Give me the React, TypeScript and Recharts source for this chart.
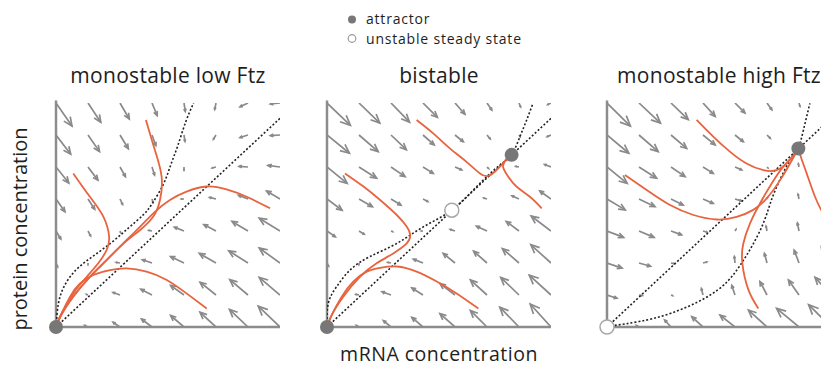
import React from 'react';
import { ComposedChart, Line, XAxis, YAxis, ReferenceDot, ReferenceLine } from 'recharts';

type Pt = [number, number];

// grid of the vector field (data units, tails of arrows)
const gridX = [0, 1, 2, 3, 4, 5, 6, 7];
const gridY = [0, 1, 2, 3, 4, 5, 6, 7];

// ---- monostable low Ftz : arrow components, rows from bottom (y=0) to top (y=7)
const lowDx: number[][] = [
  [0, -0.1, -0.22, -0.33, -0.42, -0.5, -0.58, -0.68],
  [0, -0.05, -0.22, -0.35, -0.42, -0.5, -0.57, -0.65],
  [0.05, 0, -0.12, -0.3, -0.42, -0.52, -0.6, -0.65],
  [0.15, 0.08, 0.02, -0.1, -0.3, -0.38, -0.5, -0.65],
  [0.28, 0.21, 0.08, 0.03, -0.08, -0.2, -0.3, -0.42],
  [0.4, 0.31, 0.17, 0.08, 0, -0.12, -0.28, -0.38],
  [0.46, 0.36, 0.26, 0.12, 0.03, -0.08, -0.25, -0.3],
  [0.5, 0.4, 0.29, 0.16, 0.04, -0.04, -0.25, -0.3],
];
const lowDy: number[][] = [
  [0, 0.05, 0.15, 0.25, 0.36, 0.46, 0.55, 0.65],
  [0, 0.02, 0.08, 0.18, 0.3, 0.4, 0.48, 0.55],
  [-0.12, -0.05, 0.02, 0.1, 0.2, 0.3, 0.38, 0.47],
  [-0.25, -0.15, -0.05, 0.02, 0.12, 0.2, 0.3, 0.4],
  [-0.4, -0.32, -0.17, -0.1, 0, 0.05, 0.12, 0.25],
  [-0.5, -0.41, -0.3, -0.25, -0.1, -0.03, 0.02, 0.05],
  [-0.6, -0.52, -0.43, -0.33, -0.2, -0.13, -0.08, -0.02],
  [-0.72, -0.6, -0.5, -0.39, -0.26, -0.2, -0.12, -0.03],
];

// ---- bistable
const biDx: number[][] = [
  [0, -0.08, -0.24, -0.35, -0.47, -0.52, -0.6, -0.65],
  [0, -0.1, -0.28, -0.35, -0.47, -0.52, -0.57, -0.68],
  [0.05, 0, -0.1, -0.3, -0.37, -0.42, -0.52, -0.63],
  [0.26, 0.16, 0.05, -0.05, -0.15, -0.33, -0.4, -0.62],
  [0.47, 0.42, 0.31, 0.15, 0.02, -0.1, -0.22, -0.35],
  [0.63, 0.55, 0.44, 0.32, 0.21, 0.05, -0.1, -0.2],
  [0.7, 0.6, 0.48, 0.35, 0.26, 0.1, 0.03, -0.12],
  [0.73, 0.65, 0.58, 0.45, 0.31, 0.15, 0.05, -0.1],
];
const biDy: number[][] = [
  [0, 0.05, 0.2, 0.3, 0.42, 0.52, 0.62, 0.72],
  [0, 0.02, 0.1, 0.22, 0.36, 0.47, 0.55, 0.62],
  [-0.1, -0.05, 0.02, 0.12, 0.3, 0.37, 0.45, 0.57],
  [-0.18, -0.1, -0.02, 0, 0.05, 0.15, 0.3, 0.47],
  [-0.35, -0.24, -0.19, -0.08, 0, 0.03, 0.1, 0.25],
  [-0.51, -0.35, -0.3, -0.2, -0.09, -0.05, 0.02, 0.08],
  [-0.57, -0.52, -0.46, -0.31, -0.21, -0.12, -0.05, -0.05],
  [-0.7, -0.63, -0.6, -0.45, -0.35, -0.22, -0.12, -0.05],
];

// ---- monostable high Ftz
const highDx: number[][] = [
  [0, -0.08, -0.2, -0.35, -0.47, -0.58, -0.7, -0.7],
  [0.31, 0.1, 0.05, -0.05, -0.1, -0.22, -0.33, -0.5],
  [0.47, 0.36, 0.1, 0.12, -0.02, -0.08, -0.15, -0.3],
  [0.52, 0.47, 0.33, 0.12, 0.03, -0.03, -0.05, -0.2],
  [0.57, 0.5, 0.38, 0.32, 0.2, 0.02, -0.03, -0.15],
  [0.63, 0.55, 0.44, 0.32, 0.21, 0.03, -0.02, -0.12],
  [0.68, 0.6, 0.49, 0.38, 0.26, 0.1, 0, -0.1],
  [0.73, 0.67, 0.54, 0.38, 0.31, 0.15, 0.03, -0.05],
];
const highDy: number[][] = [
  [0, 0.05, 0.22, 0.32, 0.37, 0.53, 0.58, 0.7],
  [-0.1, -0.02, -0.02, 0.2, 0.3, 0.42, 0.47, 0.55],
  [-0.16, -0.1, -0.02, 0.03, 0.2, 0.3, 0.4, 0.5],
  [-0.2, -0.2, -0.12, -0.03, 0.05, 0.15, 0.25, 0.4],
  [-0.34, -0.24, -0.19, -0.14, -0.06, 0.05, 0.15, 0.3],
  [-0.51, -0.35, -0.3, -0.2, -0.09, -0.03, 0.1, 0.15],
  [-0.57, -0.52, -0.42, -0.31, -0.21, -0.1, -0.02, 0.02],
  [-0.72, -0.63, -0.52, -0.42, -0.31, -0.21, -0.1, -0.15],
];

// ---- nullclines (dashed)
const proteinNullcline: Pt[] = [[0, 0], [7, 6.52]];
const lowMrnaNullcline: Pt[] = [
  [0, 0], [0.07, 0.7], [0.25, 1.26], [0.62, 1.78], [1.14, 2.2], [1.72, 2.63], [2.25, 3.08],
  [2.72, 3.5], [3.0, 3.85], [3.35, 4.45], [3.58, 5.05], [3.8, 5.65], [4.05, 6.4], [4.3, 7.0],
];
const biMrnaNullcline: Pt[] = [
  [0, 0], [0.04, 0.74], [0.3, 1.26], [0.72, 1.78], [1.34, 2.2], [2.18, 2.61], [3.01, 3.13],
  [3.9, 3.65], [4.68, 4.39], [5.41, 5.07], [5.77, 5.38], [6.03, 5.95], [6.24, 6.47], [6.43, 6.97],
];
const highMrnaNullcline: Pt[] = [
  [0, 0], [0.25, 0.05], [1.0, 0.17], [2.0, 0.43], [3.06, 0.9], [3.77, 1.43], [4.2, 1.99],
  [4.55, 2.56], [4.9, 3.28], [5.15, 4.0], [5.45, 4.7], [5.8, 5.35], [5.98, 5.58], [6.14, 6.16], [6.34, 6.99],
];

// ---- trajectories (orange)
const lowTrajectories: Pt[][] = [
  [[2.81, 6.47], [3.09, 5.53], [3.3, 4.7], [3.25, 3.97], [3.04, 3.45], [2.63, 3.03], [2.1, 2.6], [1.58, 2.09], [1.06, 1.57], [0.54, 0.95], [0.13, 0.32], [0, 0]],
  [[0.54, 4.8], [1.06, 4.07], [1.48, 3.45], [1.66, 2.82], [1.58, 2.4], [1.32, 1.99], [0.96, 1.57], [0.54, 1.05], [0.18, 0.43], [0, 0]],
  [[6.69, 3.71], [5.96, 4.07], [5.33, 4.3], [4.71, 4.39], [4.08, 4.23], [3.56, 3.97], [3.09, 3.6], [2.63, 3.14], [2.1, 2.61], [1.58, 2.09], [1.06, 1.57], [0.54, 0.96], [0.15, 0.36], [0, 0]],
  [[4.71, 0.58], [4.08, 1.05], [3.46, 1.47], [2.83, 1.73], [2.21, 1.83], [1.69, 1.78], [1.17, 1.63], [0.75, 1.36], [0.44, 0.95], [0.18, 0.43], [0, 0]],
];
const biTrajectories: Pt[][] = [
  [[2.8, 6.47], [3.32, 6.05], [3.84, 5.58], [4.36, 5.16], [4.78, 4.8], [5.04, 4.72], [5.25, 4.86], [5.46, 5.07], [5.67, 5.33], [5.77, 5.38]],
  [[6.71, 3.71], [6.34, 4.07], [5.92, 4.39], [5.66, 4.7], [5.5, 5.01], [5.6, 5.22], [5.77, 5.38]],
  [[0.56, 4.8], [1.14, 4.39], [1.66, 3.97], [2.18, 3.5], [2.49, 3.14], [2.6, 2.88], [2.49, 2.61], [2.07, 2.3], [1.55, 1.99], [1.03, 1.57], [0.51, 0.95], [0.15, 0.38], [0, 0]],
  [[4.73, 0.58], [4.05, 1.05], [3.43, 1.42], [2.8, 1.73], [2.18, 1.89], [1.66, 1.85], [1.24, 1.73], [0.82, 1.42], [0.46, 0.95], [0.15, 0.38], [0, 0]],
];
const highTrajectories: Pt[][] = [
  [[2.8, 6.47], [3.32, 5.95], [3.84, 5.48], [4.36, 5.11], [4.89, 4.9], [5.3, 4.9], [5.61, 5.11], [5.88, 5.42], [5.98, 5.58]],
  [[0.56, 4.75], [1.24, 4.28], [1.97, 3.81], [2.7, 3.5], [3.43, 3.36], [4.05, 3.44], [4.57, 3.66], [4.99, 4.02], [5.41, 4.59], [5.72, 5.11], [5.93, 5.48], [5.98, 5.58]],
  [[4.73, 0.58], [4.42, 1.16], [4.23, 1.99], [4.26, 2.61], [4.47, 3.24], [4.78, 3.86], [5.15, 4.49], [5.51, 5.01], [5.88, 5.42], [5.98, 5.58]],
  [[6.75, 3.55], [6.5, 4.07], [6.24, 4.8], [6.08, 5.25], [5.98, 5.58]],
];

// ---- steady states
const lowAttractors: Pt[] = [[0, 0]];
const lowUnstable: Pt[] = [];
const biAttractors: Pt[] = [[0, 0], [5.77, 5.38]];
const biUnstable: Pt[] = [[3.9, 3.65]];
const highAttractors: Pt[] = [[5.98, 5.58]];
const highUnstable: Pt[] = [[0, 0]];

const titles = ['monostable low Ftz', 'bistable', 'monostable high Ftz'];
const xLabel = 'mRNA concentration';
const yLabel = 'protein concentration';
const legendLabels = ['attractor', 'unstable steady state'];

const FONT = '"Open Sans", "DejaVu Sans", sans-serif';
const ARROW = '#8a8a8a';
const ORANGE = '#e8643f';
const DOT = '#777777';
const AXIS = '#8c8c8c';

type P = { x: number; y: number | null };

function buildArrows(dx: number[][], dy: number[][]) {
  const shafts: P[] = [];
  const heads: P[] = [];
  const ang = 0.42;
  const c = Math.cos(ang);
  const s = Math.sin(ang);
  gridY.forEach((y, j) => {
    gridX.forEach((x, i) => {
      const u = dx[j][i];
      const v = dy[j][i];
      const len = Math.hypot(u, v);
      if (len < 0.03) return;
      const tx = x + u;
      const ty = y + v;
      shafts.push({ x, y }, { x: tx, y: ty }, { x: tx, y: null });
      const h = len * 0.34;
      const bx = -u / len;
      const by = -v / len;
      const w1 = { x: tx + h * (bx * c - by * s), y: ty + h * (bx * s + by * c) };
      const w2 = { x: tx + h * (bx * c + by * s), y: ty + h * (-bx * s + by * c) };
      heads.push(w1, { x: tx, y: ty }, w2, { x: w2.x, y: null });
    });
  });
  return { shafts, heads };
}

const toPts = (a: Pt[]) => a.map(([x, y]) => ({ x, y }));

type PanelProps = {
  left: number;
  dx: number[][];
  dy: number[][];
  curve: Pt[];
  trajs: Pt[][];
  attractors: Pt[];
  unstable: Pt[];
};

function Panel({ left, dx, dy, curve, trajs, attractors, unstable }: PanelProps) {
  const { shafts, heads } = buildArrows(dx, dy);
  return (
    <div style={{ position: 'absolute', left: left - 15, top: 88 }}>
      <ComposedChart width={254} height={254} margin={{ top: 15, right: 15, bottom: 15, left: 15 }}>
        <XAxis type="number" dataKey="x" domain={[0, 7]} allowDataOverflow hide />
        <YAxis type="number" domain={[0, 7]} allowDataOverflow hide />
        <ReferenceLine segment={[{ x: 0, y: 0 }, { x: 7, y: 0 }]} stroke={AXIS} strokeWidth={2.5} ifOverflow="visible" />
        <ReferenceLine segment={[{ x: 0, y: 0 }, { x: 0, y: 7.08 }]} stroke={AXIS} strokeWidth={2.5} ifOverflow="visible" />
        <Line data={shafts} dataKey="y" type="linear" stroke={ARROW} strokeWidth={1.7} dot={false} activeDot={false} isAnimationActive={false} />
        <Line data={heads} dataKey="y" type="linear" stroke={ARROW} strokeWidth={1.7} dot={false} activeDot={false} isAnimationActive={false} />
        <Line data={toPts(proteinNullcline)} dataKey="y" type="linear" stroke="#222" strokeWidth={1.6} strokeDasharray="2 2" dot={false} activeDot={false} isAnimationActive={false} />
        <Line data={toPts(curve)} dataKey="y" type="natural" stroke="#222" strokeWidth={1.6} strokeDasharray="2 2" dot={false} activeDot={false} isAnimationActive={false} />
        {trajs.map((t, k) => (
          <Line key={'t' + k} data={toPts(t)} dataKey="y" type="natural" stroke={ORANGE} strokeWidth={1.8} dot={false} activeDot={false} isAnimationActive={false} />
        ))}
        {unstable.map(([x, y], k) => (
          <ReferenceDot key={'u' + k} x={x} y={y} r={7} fill="#ffffff" stroke="#a8a8a8" strokeWidth={1.5} ifOverflow="visible" />
        ))}
        {attractors.map(([x, y], k) => (
          <ReferenceDot key={'a' + k} x={x} y={y} r={7} fill={DOT} stroke="none" ifOverflow="visible" />
        ))}
      </ComposedChart>
    </div>
  );
}

const panelLefts = [56, 327, 607];

export default function App() {
  return (
    <div style={{ position: 'fixed', left: 0, top: 0, width: 821, height: 368, overflow: 'hidden', background: '#fff' }}>
      <Panel left={panelLefts[0]} dx={lowDx} dy={lowDy} curve={lowMrnaNullcline} trajs={lowTrajectories} attractors={lowAttractors} unstable={lowUnstable} />
      <Panel left={panelLefts[1]} dx={biDx} dy={biDy} curve={biMrnaNullcline} trajs={biTrajectories} attractors={biAttractors} unstable={biUnstable} />
      <Panel left={panelLefts[2]} dx={highDx} dy={highDy} curve={highMrnaNullcline} trajs={highTrajectories} attractors={highAttractors} unstable={highUnstable} />
      <svg width={821} height={368} style={{ position: 'absolute', left: 0, top: 0, pointerEvents: 'none' }}>
        <g fontFamily={FONT} fill="#1e1e1e">
          <circle cx={352} cy={19.5} r={4} fill={DOT} />
          <text x={366} y={24.3} fontSize={14} letterSpacing={0.8}>{legendLabels[0]}</text>
          <circle cx={352} cy={38.5} r={3.8} fill="#fff" stroke="#9a9a9a" strokeWidth={1.2} />
          <text x={366} y={43.5} fontSize={14} letterSpacing={0.8}>{legendLabels[1]}</text>
          <text x={168} y={83} fontSize={21} letterSpacing={0.3} textAnchor="middle">{titles[0]}</text>
          <text x={439} y={83} fontSize={21} letterSpacing={0.3} textAnchor="middle">{titles[1]}</text>
          <text x={719} y={83} fontSize={21} letterSpacing={0.3} textAnchor="middle">{titles[2]}</text>
          <text x={439} y={361} fontSize={19.5} letterSpacing={0.5} textAnchor="middle">{xLabel}</text>
          <text transform="translate(27,229) rotate(-90)" fontSize={20} textAnchor="middle">{yLabel}</text>
        </g>
      </svg>
    </div>
  );
}
